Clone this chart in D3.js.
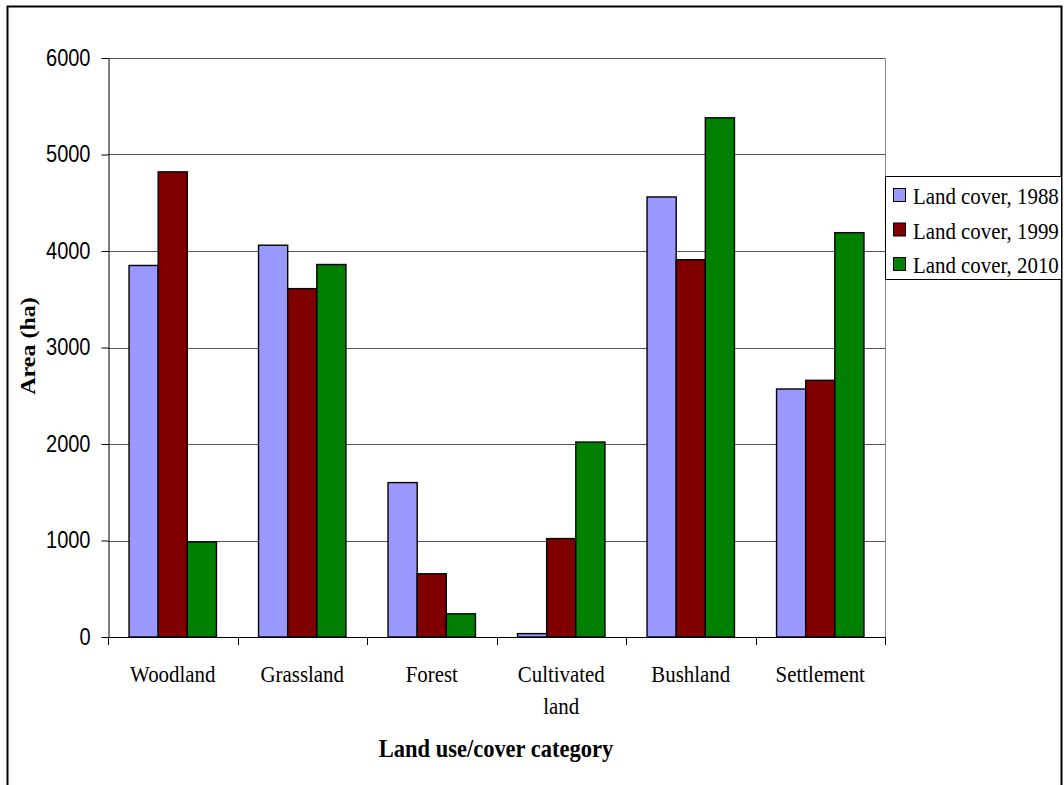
<!DOCTYPE html>
<html>
<head>
<meta charset="utf-8">
<script src="https://cdn.jsdelivr.net/npm/d3@7"></script>
<style>
  body { margin: 0; background: #fff; }
  text { font-family: "Liberation Serif", serif; fill: #000; }
</style>
</head>
<body>
<svg width="1064" height="785"></svg>
<script>
const categories = ["Woodland", "Grassland", "Forest", "Cultivated land", "Bushland", "Settlement"];
const seriesNames = ["Land cover, 1988", "Land cover, 1999", "Land cover, 2010"];
const cover1988 = [3850, 4060, 1600, 35, 4560, 2570];
const cover1999 = [4820, 3610, 655, 1020, 3910, 2660];
const cover2010 = [985, 3860, 240, 2020, 5380, 4190];
const yTicks = [0, 1000, 2000, 3000, 4000, 5000, 6000];
const colors = ["#9999ff", "#800000", "#008000"];

const series = [cover1988, cover1999, cover2010];
const sx = 0.87; // text in the original looks horizontally squeezed

const svg = d3.select("svg");

// outer frame
svg.append("rect")
   .attr("x", 7.5).attr("y", 6.5)
   .attr("width", 1054).attr("height", 790)
   .attr("fill", "none").attr("stroke", "#000").attr("stroke-width", 2);

const plotL = 108, plotR = 885, plotT = 58, plotB = 637;

const x0 = d3.scaleBand().domain(categories).range([plotL, plotR])
             .paddingInner(0.325).paddingOuter(0.1625);
const x1 = d3.scaleBand().domain(d3.range(3)).range([0, x0.bandwidth()]);
const y = d3.scaleLinear().domain([0, 6000]).range([plotB, plotT]);

// gridlines
svg.append("g")
   .selectAll("line")
   .data(yTicks.filter(d => d > 0))
   .enter().append("line")
   .attr("x1", plotL).attr("x2", plotR)
   .attr("y1", d => Math.round(y(d)) + 0.5).attr("y2", d => Math.round(y(d)) + 0.5)
   .attr("stroke", "#555").attr("stroke-width", 1);

// plot border right
svg.append("line")
   .attr("x1", plotR + 0.5).attr("x2", plotR + 0.5)
   .attr("y1", Math.round(y(6000)) + 0.5).attr("y2", plotB)
   .attr("stroke", "#888");

// bars
const groups = svg.append("g")
   .selectAll("g")
   .data(categories)
   .enter().append("g")
   .attr("transform", d => `translate(${x0(d)},0)`);

groups.selectAll("rect")
   .data((d, i) => series.map((s, k) => ({k: k, v: s[i]})))
   .enter().append("rect")
   .attr("x", d => x1(d.k))
   .attr("y", d => y(d.v))
   .attr("width", x1.bandwidth())
   .attr("height", d => plotB - y(d.v))
   .attr("fill", d => colors[d.k])
   .attr("stroke", "#000")
   .attr("stroke-width", 1.4);

// y axis
const yAxis = svg.append("g")
   .attr("transform", `translate(${plotL + 0.5},0)`)
   .call(d3.axisLeft(y).tickValues(yTicks).tickFormat(d3.format("d")).tickSize(7).tickSizeOuter(0));
yAxis.selectAll("text")
   .attr("x", 0)
   .attr("transform", `translate(-18,0) scale(${sx},1)`)
   .style("font-family", "'Liberation Sans', Arial, sans-serif")
   .style("font-size", "23px");
yAxis.selectAll("line, path").attr("stroke", "#000");

// x axis: baseline + boundary ticks
svg.append("line")
   .attr("x1", plotL).attr("x2", plotR)
   .attr("y1", plotB + 0.5).attr("y2", plotB + 0.5)
   .attr("stroke", "#000");

const step = x0.step();
const bounds = d3.range(categories.length + 1).map(i => x0(categories[0]) - x0.paddingOuter() * step + i * step);
svg.append("g").selectAll("line")
   .data(bounds).enter().append("line")
   .attr("x1", d => Math.round(d) + 0.5).attr("x2", d => Math.round(d) + 0.5)
   .attr("y1", plotB).attr("y2", plotB + 8)
   .attr("stroke", "#000");

// category labels
const labels = svg.append("g").selectAll("text")
   .data(categories).enter().append("text")
   .attr("transform", d => `translate(${x0(d) + x0.bandwidth() / 2},682) scale(${sx},1)`)
   .attr("text-anchor", "middle")
   .style("font-size", "24px");
labels.each(function(d) {
  const parts = d === "Cultivated land" ? ["Cultivated", "land"] : [d];
  const t = d3.select(this);
  parts.forEach((p, i) => {
    t.append("tspan").attr("x", 0).attr("dy", i === 0 ? 0 : 32).text(p);
  });
});

// axis titles
svg.append("text")
   .attr("transform", `translate(496,757) scale(0.9,1)`)
   .attr("text-anchor", "middle")
   .style("font-size", "25px").style("font-weight", "bold")
   .text("Land use/cover category");

svg.append("text")
   .attr("transform", `translate(35,346) rotate(-90) scale(1,${sx})`)
   .attr("text-anchor", "middle")
   .style("font-size", "24px").style("font-weight", "bold")
   .text("Area (ha)");

// legend
const legend = svg.append("g").attr("transform", "translate(885,176)");
legend.append("rect")
   .attr("x", 0.5).attr("y", 0.5).attr("width", 176).attr("height", 103)
   .attr("fill", "#fff").attr("stroke", "#000");
const li = legend.selectAll("g.item")
   .data(seriesNames).enter().append("g")
   .attr("class", "item")
   .attr("transform", (d, i) => `translate(0,${19 + i * 34.5})`);
li.append("rect")
   .attr("x", 8.5).attr("y", -6.5).attr("width", 12).attr("height", 13)
   .attr("fill", (d, i) => colors[i]).attr("stroke", "#000");
li.append("text")
   .attr("transform", `translate(28,9) scale(${sx},1)`)
   .style("font-size", "24px")
   .text(d => d);
</script>
</body>
</html>
